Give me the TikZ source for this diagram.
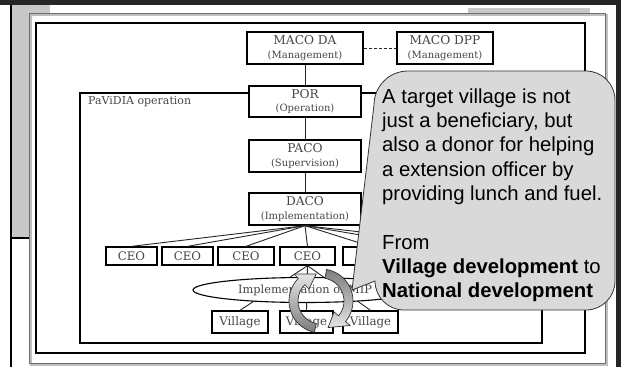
\documentclass[tikz,border=0pt]{standalone}
\usepackage{fontspec}
\usepackage{xcolor}
\usepackage{tikz}
\usetikzlibrary{shapes.geometric, positioning}
\newfontfamily\calloutfont{Liberation Sans}
\newfontfamily\chartfont{DejaVu Serif}
\definecolor{slidedark}{RGB}{38, 38, 38}
\definecolor{slidegray}{RGB}{200, 200, 200}
\definecolor{framegray}{RGB}{110, 110, 110}
\definecolor{boxtext}{RGB}{70, 70, 70}
\definecolor{calloutfill}{RGB}{217, 217, 217}
\definecolor{cyclelight}{RGB}{228, 228, 228}
\definecolor{cycledark}{RGB}{125, 125, 125}
\newcommand{\rolefont}{\fontsize{10}{11}\selectfont}

\begin{document}
\begin{tikzpicture}[x=1pt, y=-1pt,
    office/.style={rectangle, draw=black, line width=1.3pt, fill=white, text=boxtext, minimum width=112pt, minimum height=32pt, inner sep=1pt, align=center, font=\chartfont\fontsize{12.2}{13.5}\selectfont},
    field/.style={rectangle, draw=black, line width=1.3pt, fill=white, text=boxtext, minimum width=54pt, minimum height=18pt, inner sep=0pt, font=\chartfont\fontsize{11.8}{13}\selectfont},
    layer/.style={rectangle, draw=black, line width=1.5pt},
    link/.style={line width=0.9pt, black!85},
    cyclearrow/.style={draw=black!80, line width=0.7pt},
    callout/.style={draw=black!80, line width=0.8pt, fill=calloutfill}
]
    \useasboundingbox (0,0) rectangle (621,367);

    % Slide frame
    \fill[slidegray] (12,5) rectangle (29,238);
    \fill[slidegray] (12,5) rectangle (50,13);
    \fill[slidegray] (468,8) rectangle (590,13);
    \draw[line width=1.5pt] (11,0) -- (11,367);
    \draw[line width=2pt] (11,238) -- (29,238);
    \draw[gray!50, line width=1.5pt] (31,15) rectangle (607,365);
    \draw[framegray, line width=1pt] (29,13) rectangle (605,363);
    \draw[line width=1.2pt] (36,23) rectangle (585,353);

    % PaViDIA operation
    \draw[layer] (80,93) rectangle (542,343);
    \node[anchor=west, inner sep=0pt, text=boxtext, font=\chartfont\fontsize{11}{12}\selectfont] (pavidia) at (88,102) {PaViDIA operation};

    % Management chain
    \node[office, minimum width=116pt] (macoda) at (305,48) {MACO DA\\{\rolefont (Management)}};
    \node[office, minimum width=96pt] (macodpp) at (445,48) {MACO DPP\\{\rolefont (Management)}};
    \node[office, minimum height=31pt] (por) at (305,101.5) {POR\\{\rolefont (Operation)}};
    \node[office] (paco) at (305,156) {PACO\\{\rolefont (Supervision)}};
    \node[office] (daco) at (305,209) {DACO\\{\rolefont (Implementation)}};

    % Extension officers
    \node[field, minimum width=51pt] (ceo1) at (131.5,256) {CEO};
    \node[field, minimum width=51pt] (ceo2) at (187.5,256) {CEO};
    \node[field, minimum width=56pt] (ceo3) at (246,256) {CEO};
    \node[field, minimum width=55pt] (ceo4) at (307.5,256) {CEO};
    \node[field, minimum width=55pt] (ceo5) at (370.5,256) {CEO};
    \coordinate (ceo6) at (432,247);
    \coordinate (ceo7) at (494,247);

    % Villages
    \node[field, minimum width=56pt, minimum height=22pt] (village1) at (240,322) {Village};
    \node[field, minimum width=53pt, minimum height=22pt] (village2) at (306.5,322) {Village};
    \node[field, minimum width=55pt, minimum height=22pt] (village3) at (370.5,322) {Village};

    % Connections
    \draw[link, dash pattern=on 3pt off 2pt] (macoda) -- (macodpp);
    \draw[link] (macoda) -- (por);
    \draw[link] (por) -- (paco);
    \draw[link] (paco) -- (daco);
    \draw[link] (daco.south) -- (ceo1.north);
    \draw[link] (daco.south) -- (ceo2.north);
    \draw[link] (daco.south) -- (ceo3.north);
    \draw[link] (daco.south) -- (ceo4.north);
    \draw[link] (daco.south) -- (ceo5.north);
    \draw[link] (daco.south) -- (ceo6);
    \draw[link] (daco.south) -- (ceo7);
    \draw[link] (ceo4.south) -- (village1.north);
    \draw[link] (ceo4.south) -- (village2.north);
    \draw[link] (ceo4.south) -- (village3.north);

    \node[ellipse, draw=black, line width=1.1pt, fill=white, text=boxtext, minimum width=224pt, minimum height=25pt, inner sep=0pt, font=\chartfont\fontsize{11.4}{13}\selectfont] (mip) at (305,290) {Implementation of MIP};

    % Cycle arrows
    \begin{scope}[shift={(321,301)}, yscale=-1]
        \path[cyclearrow, top color=cyclelight, bottom color=cycledark]
            (258:32) arc[start angle=258, end angle=135, radius=32] -- (135:38) -- (100:27.5)
            -- (135:17) -- (135:23) arc[start angle=135, end angle=258, radius=23] -- cycle;
        \path[cyclearrow, top color=cycledark, bottom color=cyclelight]
            (80:32) arc[start angle=80, end angle=-40, radius=32] -- (-40:38) -- (-75:27.5)
            -- (-40:17) -- (-40:23) arc[start angle=-40, end angle=80, radius=23] -- cycle;
    \end{scope}

    % Callout
    \path[callout] (352,290) -- (375,281) arc[start angle=180, end angle=90, radius=29]
        -- (586,310) arc[start angle=90, end angle=0, radius=29]
        -- (615,100) arc[start angle=0, end angle=-90, radius=29]
        -- (408,71) arc[start angle=-90, end angle=-180, radius=34] -- cycle;
    \node[anchor=north west, inner sep=0pt, align=left, font=\calloutfont\fontsize{20.3}{24.3}\selectfont] (note) at (382,88.4)
        {A target village is not\\
         just a beneficiary, but\\
         also a donor for helping\\
         a extension officer by\\
         providing lunch and fuel.\\[24.3pt]
         From\\
         \textbf{Village development} to\\
         \textbf{National development}};

    % Slide border
    \fill[slidedark] (0,0) rectangle (621,5);
    \fill[slidedark] (616,0) rectangle (621,367);
\end{tikzpicture}
\end{document}
